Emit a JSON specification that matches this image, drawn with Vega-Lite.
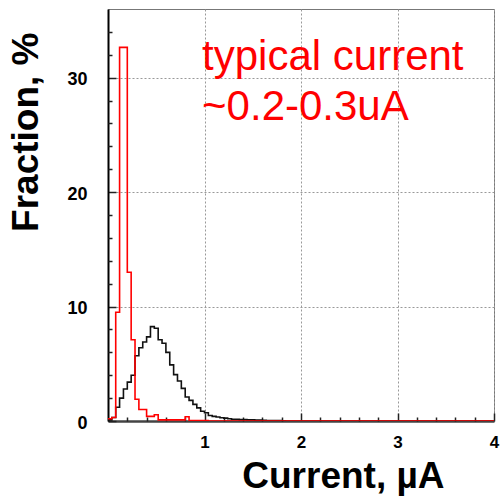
{
  "$schema": "https://vega.github.io/schema/vega-lite/v6.json",
  "width": 386,
  "height": 412,
  "autosize": "none",
  "padding": {"left": 108, "top": 9, "right": 6, "bottom": 79},
  "background": "white",
  "config": {
    "view": {"stroke": "#777", "strokeWidth": 1},
    "font": "Liberation Sans"
  },
  "datasets": {
    "hist": [
      {"current": 0.00, "fraction": 0.1, "series": "all"},
      {"current": 0.04, "fraction": 0.3, "series": "all"},
      {"current": 0.08, "fraction": 1.2, "series": "all"},
      {"current": 0.12, "fraction": 2.0, "series": "all"},
      {"current": 0.16, "fraction": 2.8, "series": "all"},
      {"current": 0.20, "fraction": 3.4, "series": "all"},
      {"current": 0.24, "fraction": 4.0, "series": "all"},
      {"current": 0.28, "fraction": 5.7, "series": "all"},
      {"current": 0.32, "fraction": 6.4, "series": "all"},
      {"current": 0.36, "fraction": 6.9, "series": "all"},
      {"current": 0.40, "fraction": 7.35, "series": "all"},
      {"current": 0.44, "fraction": 8.25, "series": "all"},
      {"current": 0.48, "fraction": 8.1, "series": "all"},
      {"current": 0.52, "fraction": 7.1, "series": "all"},
      {"current": 0.56, "fraction": 6.8, "series": "all"},
      {"current": 0.60, "fraction": 6.0, "series": "all"},
      {"current": 0.64, "fraction": 4.9, "series": "all"},
      {"current": 0.68, "fraction": 4.05, "series": "all"},
      {"current": 0.72, "fraction": 3.5, "series": "all"},
      {"current": 0.76, "fraction": 2.85, "series": "all"},
      {"current": 0.80, "fraction": 2.1, "series": "all"},
      {"current": 0.84, "fraction": 1.8, "series": "all"},
      {"current": 0.88, "fraction": 1.45, "series": "all"},
      {"current": 0.92, "fraction": 1.15, "series": "all"},
      {"current": 0.96, "fraction": 0.85, "series": "all"},
      {"current": 1.00, "fraction": 0.72, "series": "all"},
      {"current": 1.04, "fraction": 0.48, "series": "all"},
      {"current": 1.08, "fraction": 0.4, "series": "all"},
      {"current": 1.12, "fraction": 0.35, "series": "all"},
      {"current": 1.16, "fraction": 0.28, "series": "all"},
      {"current": 1.20, "fraction": 0.25, "series": "all"},
      {"current": 1.24, "fraction": 0.2, "series": "all"},
      {"current": 1.28, "fraction": 0.15, "series": "all"},
      {"current": 1.32, "fraction": 0.15, "series": "all"},
      {"current": 1.36, "fraction": 0.12, "series": "all"},
      {"current": 1.40, "fraction": 0.12, "series": "all"},
      {"current": 1.44, "fraction": 0.1, "series": "all"},
      {"current": 1.48, "fraction": 0.1, "series": "all"},
      {"current": 1.52, "fraction": 0.08, "series": "all"},
      {"current": 1.56, "fraction": 0.08, "series": "all"},
      {"current": 1.60, "fraction": 0.06, "series": "all"},
      {"current": 1.64, "fraction": 0.05, "series": "all"},
      {"current": 1.68, "fraction": 0.04, "series": "all"},
      {"current": 1.72, "fraction": 0.04, "series": "all"},
      {"current": 1.76, "fraction": 0.03, "series": "all"},
      {"current": 1.80, "fraction": 0.02, "series": "all"},
      {"current": 1.84, "fraction": 0.0, "series": "all"},
      {"current": 4.00, "fraction": 0.0, "series": "all"},
      {"current": 0.00, "fraction": 0.2, "series": "typical"},
      {"current": 0.04, "fraction": 0.3, "series": "typical"},
      {"current": 0.08, "fraction": 9.5, "series": "typical"},
      {"current": 0.12, "fraction": 32.65, "series": "typical"},
      {"current": 0.16, "fraction": 32.65, "series": "typical"},
      {"current": 0.20, "fraction": 13.0, "series": "typical"},
      {"current": 0.24, "fraction": 7.1, "series": "typical"},
      {"current": 0.28, "fraction": 1.9, "series": "typical"},
      {"current": 0.32, "fraction": 1.0, "series": "typical"},
      {"current": 0.36, "fraction": 1.0, "series": "typical"},
      {"current": 0.40, "fraction": 0.4, "series": "typical"},
      {"current": 0.44, "fraction": 0.4, "series": "typical"},
      {"current": 0.48, "fraction": 0.55, "series": "typical"},
      {"current": 0.52, "fraction": 0.1, "series": "typical"},
      {"current": 0.56, "fraction": 0.1, "series": "typical"},
      {"current": 0.60, "fraction": 0.1, "series": "typical"},
      {"current": 0.64, "fraction": 0.1, "series": "typical"},
      {"current": 0.68, "fraction": 0.1, "series": "typical"},
      {"current": 0.72, "fraction": 0.1, "series": "typical"},
      {"current": 0.76, "fraction": 0.1, "series": "typical"},
      {"current": 0.80, "fraction": 0.37, "series": "typical"},
      {"current": 0.84, "fraction": 0.05, "series": "typical"},
      {"current": 0.88, "fraction": 0.05, "series": "typical"},
      {"current": 0.92, "fraction": 0.05, "series": "typical"},
      {"current": 0.96, "fraction": 0.05, "series": "typical"},
      {"current": 1.00, "fraction": 0.05, "series": "typical"},
      {"current": 1.04, "fraction": 0.0, "series": "typical"},
      {"current": 4.00, "fraction": 0.0, "series": "typical"}
    ],
    "note": [
      {"text": ["typical current", "~0.2-0.3uA"]}
    ]
  },
  "resolve": {"axis": {"x": "independent", "y": "independent"}},
  "layer": [
    {
      "data": {"name": "hist"},
      "mark": {"type": "line", "interpolate": "step-after", "strokeWidth": 1.6, "clip": true},
      "encoding": {
        "x": {
          "field": "current",
          "type": "quantitative",
          "scale": {"domain": [0, 4], "nice": false, "zero": false},
          "axis": {
            "orient": "bottom",
            "title": "Current, µA",
            "titleFont": "Liberation Sans",
            "titleFontWeight": "bold",
            "titleFontSize": 37,
            "titleColor": "black",
            "titleAlign": "right",
            "titleBaseline": "alphabetic",
            "titleAngle": 0,
            "titleX": 336,
            "titleY": 66,
            "values": [1, 2, 3, 4],
            "format": "d",
            "labelOverlap": false,
            "labelFlush": false,
            "labelBound": false,
            "labelFont": "Liberation Sans",
            "labelFontWeight": "bold",
            "labelFontSize": 17,
            "labelColor": "black",
            "labelBaseline": "alphabetic",
            "labelPadding": 34,
            "tickSize": -8,
            "tickColor": "#222",
            "tickWidth": 1.5,
            "domainColor": "#444",
            "domainWidth": 2.5,
            "grid": true,
            "gridColor": "#999",
            "gridDash": [2, 2],
            "gridWidth": 1
          }
        },
        "y": {
          "field": "fraction",
          "type": "quantitative",
          "scale": {"domain": [0, 36], "nice": false},
          "axis": {
            "orient": "left",
            "title": "Fraction, %",
            "titleFont": "Liberation Sans",
            "titleFontWeight": "bold",
            "titleFontSize": 37,
            "titleColor": "black",
            "titleAngle": 270,
            "titleAlign": "right",
            "titleBaseline": "alphabetic",
            "titleX": -71,
            "titleY": 23,
            "values": [0, 10, 20, 30],
            "format": "d",
            "labelOverlap": false,
            "labelFlush": false,
            "labelBound": false,
            "labelFont": "Liberation Sans",
            "labelFontWeight": "bold",
            "labelFontSize": 18,
            "labelColor": "black",
            "labelPadding": 29,
            "labelOffset": 2,
            "tickSize": -8,
            "tickColor": "#222",
            "tickWidth": 1.5,
            "domainColor": "black",
            "domainWidth": 2,
            "grid": true,
            "gridColor": "#999",
            "gridDash": [2, 2],
            "gridWidth": 1
          }
        },
        "color": {
          "field": "series",
          "type": "nominal",
          "scale": {"domain": ["all", "typical"], "range": ["#111111", "#ff0000"]},
          "legend": null
        },
        "order": {"field": "current", "type": "quantitative"}
      }
    },
    {
      "data": {"name": "note"},
      "mark": {
        "type": "text",
        "font": "Liberation Sans",
        "fontSize": 42,
        "color": "#ff0000",
        "align": "left",
        "baseline": "alphabetic",
        "lineHeight": 50.5
      },
      "encoding": {
        "text": {"field": "text"},
        "x": {
          "datum": 0.975,
          "type": "quantitative",
          "axis": {
            "orient": "bottom",
            "title": null,
            "values": [0.2, 0.4, 0.6, 0.8, 1.2, 1.4, 1.6, 1.8, 2.2, 2.4, 2.6, 2.8, 3.2, 3.4, 3.6, 3.8],
            "labels": false,
            "domain": false,
            "grid": false,
            "tickSize": -4,
            "tickColor": "#222",
            "tickWidth": 1.5
          }
        },
        "y": {
          "datum": 30.68,
          "type": "quantitative",
          "axis": {
            "orient": "left",
            "title": null,
            "values": [2, 4, 6, 8, 12, 14, 16, 18, 22, 24, 26, 28, 32, 34],
            "labels": false,
            "domain": false,
            "grid": false,
            "tickSize": -4,
            "tickColor": "#222",
            "tickWidth": 1.5
          }
        }
      }
    }
  ]
}
